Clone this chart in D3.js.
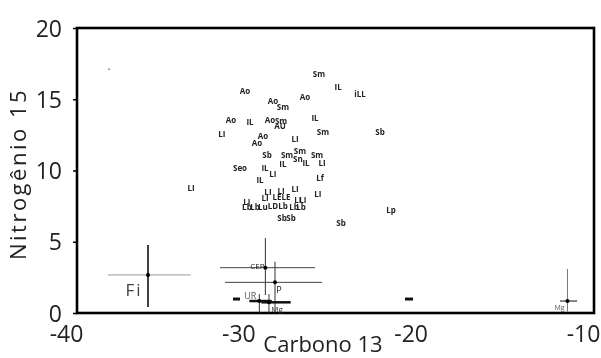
<!DOCTYPE html>
<html>
<head>
<meta charset="utf-8">
<script src="https://cdn.jsdelivr.net/npm/d3@7"></script>
<style>
  body { margin: 0; background: #fff; }
  svg { display: block; filter: grayscale(100%); }
  text { font-family: "Open Sans", sans-serif; }
</style>
</head>
<body>
<div id="chart"></div>
<script>
// species codes plotted as text marks
const labels = ['Sm', 'Ao', 'IL', 'iLL', 'Ao', 'Sm', 'Ao', 'Ao', 'IL', 'Ao', 'Sm', 'AU', 'IL',
  'LI', 'Ao', 'Sm', 'Sb', 'Ao', 'LI', 'Sb', 'Sm', 'Sm', 'Sn', 'Sm', 'IL', 'IL', 'LI',
  'Seo', 'IL', 'LI', 'IL', 'Lf', 'LI', 'LI', 'LI', 'LI', 'LI', 'LI', 'LE', 'LE', 'LI',
  'LI', 'LI', 'Lb', 'Lb', 'Lu', 'LD', 'Lb', 'Lb', 'Lb', 'Sb', 'Sb', 'Sb', 'Lp'];
const carbon = [-25.96, -30.25, -24.85, -23.58, -28.63, -28.05, -26.77, -31.06, -29.96, -28.80, -28.16, -28.22, -26.19,
  -31.59, -29.21, -25.73, -22.42, -29.55, -27.35, -28.97, -27.81, -27.06, -27.18, -26.07, -28.05, -26.71, -25.78,
  -30.54, -29.09, -28.63, -29.38, -25.90, -33.38, -28.92, -28.16, -27.35, -26.02, -29.09, -28.39, -27.87, -27.18,
  -26.89, -30.14, -30.14, -29.67, -29.21, -28.63, -28.05, -27.41, -27.00, -28.10, -27.58, -24.68, -21.78];
const nitrogen = [16.84, 15.58, 15.86, 15.37, 14.88, 14.46, 15.16, 13.61, 13.47, 13.61, 13.54, 13.19, 13.75,
  12.63, 12.49, 12.77, 12.77, 11.93, 12.28, 11.09, 11.09, 11.37, 10.81, 11.09, 10.46, 10.53, 10.53,
  10.18, 10.18, 9.82, 9.40, 9.54, 8.84, 8.56, 8.63, 8.77, 8.42, 8.14, 8.21, 8.21, 7.93,
  8.00, 7.79, 7.44, 7.44, 7.44, 7.51, 7.51, 7.44, 7.44, 6.67, 6.67, 6.32, 7.23];

// sources with mean and range (null = no bar)
const srcNames = ['Fi', 'CEP', 'P', 'UR', 'Mg', '', '', 'Mg'];
const srcC = [-35.88, -29.07, -28.51, -29.42, -28.86, -30.75, -20.73, -11.54];
const srcN = [2.67, 3.18, 2.15, 0.84, 0.75, 0.98, 0.98, 0.84];
const srcCLo = [-38.2, -31.70, -31.41, -30.0, -29.3, -30.95, -20.97, -11.97];
const srcCHi = [-33.4, -26.19, -25.78, -28.7, -27.6, -30.54, -20.50, -10.98];
const srcNLo = [0.42, 1.26, 0.02, 0.0, 0.0, null, null, 0.07];
const srcNHi = [4.77, 5.26, 3.6, 1.33, 1.33, null, null, 3.09];

const xTicks = [-40, -30, -20, -10];
const yTicks = [0, 5, 10, 15, 20];
const stray = [[-38.14, 17.1]];

const width = 601;
const height = 358;
const margin = { top: 28, right: 7, bottom: 45, left: 77 };

// line look per source: [horizontal colour, horizontal width, vertical colour, vertical width]
const srcStyle = [
  ['#999', 1, '#111', 1.6],
  ['#444', 1, '#333', 1],
  ['#444', 1, '#333', 1],
  ['#111', 2.5, '#333', 1],
  ['#111', 2.5, '#333', 1],
  ['#111', 3, '#333', 1],
  ['#111', 3, '#333', 1],
  ['#333', 1.2, '#777', 1]
];
const srcLabelPos = [
  { dx: -14, dy: 15, size: 17, color: '#444' },
  { dx: -8, dy: -2, size: 8, color: '#222' },
  { dx: 4, dy: 7, size: 9, color: '#222' },
  { dx: -9, dy: -6, size: 9, color: '#555' },
  { dx: 8, dy: 6, size: 8, color: '#333' },
  null, null,
  { dx: -8, dy: 6, size: 7, color: '#555' }
];

const svg = d3.select('#chart').append('svg')
  .attr('width', width)
  .attr('height', height);

svg.append('rect').attr('width', width).attr('height', height).attr('fill', '#fff');

const x = d3.scaleLinear().domain([-40, -10]).range([margin.left, width - margin.right]);
const y = d3.scaleLinear().domain([0, 20]).range([height - margin.bottom, margin.top]);

// axes
const yAxis = svg.append('g')
  .attr('transform', `translate(${margin.left},0)`)
  .call(d3.axisLeft(y).tickValues(yTicks).tickSize(4).tickPadding(11).tickSizeOuter(0));
yAxis.select('.domain').remove();
yAxis.selectAll('text').attr('font-size', 23).attr('fill', '#222').attr('dy', '0.35em');
yAxis.selectAll('line').attr('stroke', '#000').attr('stroke-width', 1.5);

const xAxis = svg.append('g')
  .attr('transform', `translate(0,${height - margin.bottom})`)
  .call(d3.axisBottom(x).tickValues(xTicks).tickFormat(d => String(d)).tickSize(0).tickPadding(13));
xAxis.select('.domain').remove();
xAxis.selectAll('text').attr('font-size', 23).attr('fill', '#222').attr('dx', -11);

// frame
svg.append('rect')
  .attr('x', margin.left)
  .attr('y', margin.top)
  .attr('width', width - margin.left - margin.right)
  .attr('height', height - margin.top - margin.bottom)
  .attr('fill', 'none')
  .attr('stroke', '#000')
  .attr('stroke-width', 2.6);

svg.append('text')
  .attr('x', 323)
  .attr('y', 352)
  .attr('text-anchor', 'middle')
  .attr('font-size', 22)
  .attr('fill', '#222')
  .text('Carbono 13');

svg.append('text')
  .attr('transform', 'translate(26,174) rotate(-90)')
  .attr('text-anchor', 'middle')
  .attr('font-size', 22)
  .attr('letter-spacing', 2.5)
  .attr('fill', '#222')
  .text('Nitrogênio 15');

// source bars
const src = srcNames.map((name, i) => ({ name, i }));
const g = svg.append('g');
src.forEach(({ name, i }) => {
  const st = srcStyle[i];
  g.append('line')
    .attr('x1', x(srcCLo[i])).attr('x2', x(srcCHi[i]))
    .attr('y1', y(srcN[i])).attr('y2', y(srcN[i]))
    .attr('stroke', st[0]).attr('stroke-width', st[1]);
  if (srcNLo[i] !== null) {
    g.append('line')
      .attr('x1', x(srcC[i])).attr('x2', x(srcC[i]))
      .attr('y1', y(srcNLo[i])).attr('y2', y(srcNHi[i]))
      .attr('stroke', st[2]).attr('stroke-width', st[3]);
    g.append('circle')
      .attr('cx', x(srcC[i])).attr('cy', y(srcN[i]))
      .attr('r', 2).attr('fill', '#000');
  }
  const lp = srcLabelPos[i];
  if (lp && name) {
    g.append('text')
      .attr('x', x(srcC[i]) + lp.dx)
      .attr('y', y(srcN[i]) + lp.dy)
      .attr('text-anchor', 'middle')
      .attr('dominant-baseline', 'central')
      .attr('font-size', lp.size)
      .attr('letter-spacing', lp.size > 12 ? 2 : 0)
      .attr('fill', lp.color)
      .text(name);
  }
});

svg.selectAll('.stray')
  .data(stray)
  .enter().append('circle')
  .attr('cx', d => x(d[0]))
  .attr('cy', d => y(d[1]))
  .attr('r', 0.8)
  .attr('fill', '#444');

// consumers as text marks
svg.append('g').selectAll('text')
  .data(labels)
  .enter().append('text')
  .attr('x', (d, i) => x(carbon[i]))
  .attr('y', (d, i) => y(nitrogen[i]))
  .attr('text-anchor', 'middle')
  .attr('dominant-baseline', 'central')
  .attr('font-family', 'DejaVu Sans')
  .attr('font-weight', 'bold')
  .attr('font-size', 8)
  .attr('fill', '#222')
  .text(d => d);
</script>
</body>
</html>
